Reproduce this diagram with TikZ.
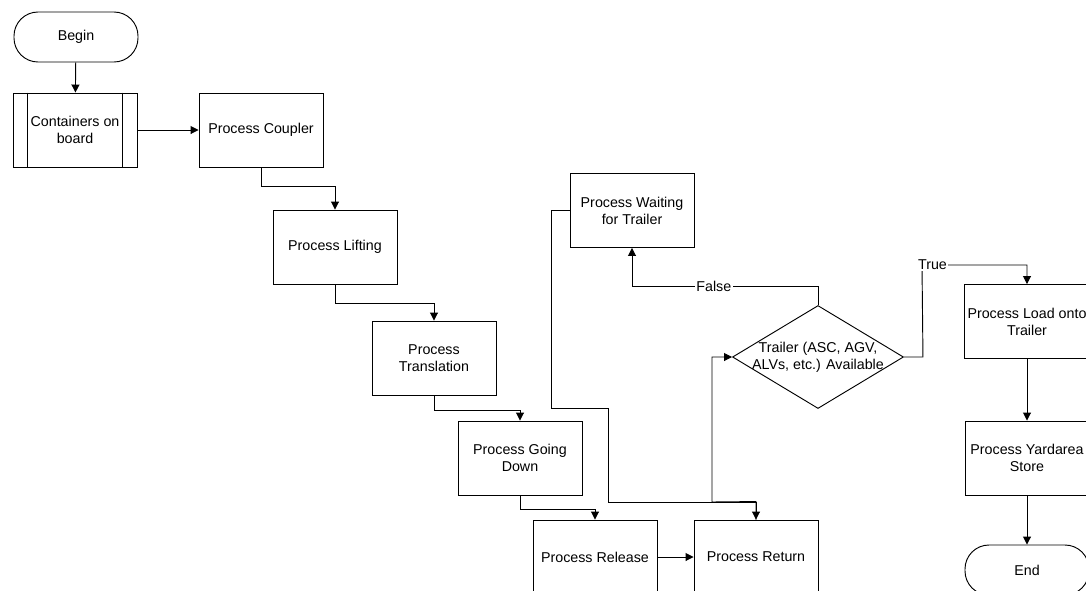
\documentclass[tikz,border=0pt]{standalone}
\usepackage{fontspec}
\setmainfont{Liberation Sans}
\usepackage{tikz}
\usetikzlibrary{positioning,arrows.meta,shapes.geometric}

\begin{document}
\begin{tikzpicture}[x=0.75pt,y=-0.75pt,>={Triangle[length=6pt,width=6pt]},line width=0.7pt]
  \tikzstyle{proc}=[draw,minimum width=93pt,minimum height=55.5pt,align=center,
    inner sep=2pt,font=\fontsize{10.7}{12.8}\selectfont]
  \tikzstyle{term}=[proc,minimum height=37.5pt,rounded corners=18pt]
  \tikzstyle{dec}=[draw,diamond,minimum width=128.25pt,minimum height=77.25pt,inner sep=0pt,
    align=center,font=\fontsize{10.7}{12.8}\selectfont]
  \tikzstyle{lbl}=[fill=white,inner sep=1pt,font=\fontsize{10.7}{12.8}\selectfont]
  \clip (0,0) rectangle (1086,590);
  \node[term] (begin) at (76,37) {Begin};
  \node[proc] (cont) at (75,130) {Containers on\\board};
  \draw ([xshift=11.25pt]cont.north west)--([xshift=11.25pt]cont.south west);
  \draw ([xshift=-11.25pt]cont.north east)--([xshift=-11.25pt]cont.south east);
  \node[proc] (coup) at (261,130) {Process Coupler};
  \node[proc] (lift) at (335,247) {Process Lifting};
  \node[proc] (trans) at (434,358) {Process\\Translation};
  \node[proc] (down) at (520,458) {Process Going\\Down};
  \node[proc] (rel) at (595,557) {Process Release};
  \node[proc] (ret) at (756,557) {Process Return};
  \node[proc] (wait) at (632,210.5) {Process Waiting\\for Trailer};
  \node[dec,label={[align=center,font=\fontsize{10.7}{12.8}\selectfont]center:Trailer (ASC, AGV,\\ALVs, etc.) Available}] (avail) at (818,357) {};
  \node[proc] (load) at (1027,321.5) {Process Load onto\\Trailer};
  \node[proc] (yard) at (1027,458) {Process Yardarea\\Store};
  \node[term] (end) at (1027,570) {End};
  \draw[->] (begin)--(cont);
  \draw[->] (cont)--(coup);
  \draw[->] (coup.south)--++(0,19)-|(lift.north);
  \draw[->] (lift.south)--++(0,19)-|(trans.north);
  \draw[->] (trans.south)--++(0,15)-|(down.north);
  \draw[->] (down.south)--++(0,14)-|(rel.north);
  \draw[->] (rel)--(ret);
  \draw[->] (wait.west)--++(-18,0)|-(608,408)--(608,502)-|(ret.north);
  \draw[->] (ret.north)--++(0,-18)--(712,502)|-(avail.west);
  \draw[->] (avail.north)--++(0,-19)-|(wait.south) node[lbl,pos=0.28] {False};
  \draw[->] (avail.east)--++(19,0)--(922,265)-|(load.north) node[lbl,pos=0.05] {True};
  \draw[->] (load)--(yard);
  \draw[->] (yard)--(end);
\end{tikzpicture}
\end{document}
